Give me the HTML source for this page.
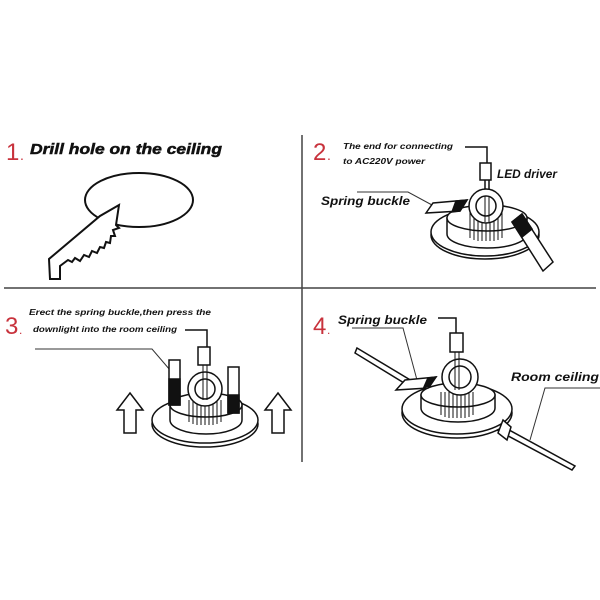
<!DOCTYPE html>
<html><head><meta charset="utf-8"><style>
body{margin:0;background:#fff}
svg{display:block}
.t{font-family:"Liberation Sans",sans-serif;font-weight:bold;font-style:italic;fill:#111}
.n{font-family:"Liberation Sans",sans-serif;fill:#c8323c}
</style></head><body>
<svg width="600" height="600" viewBox="0 0 600 600" xmlns="http://www.w3.org/2000/svg">
<g stroke="#444" stroke-width="1.5" fill="none">
<line x1="4" y1="288" x2="596" y2="288"/>
<line x1="302" y1="135" x2="302" y2="462"/>
</g>
<!-- Panel 1 -->
<text class="n" x="6" y="160" font-size="24">1</text><text class="n" x="20" y="160" font-size="14">.</text>
<text class="t" x="30" y="154" font-size="15" stroke="#111" stroke-width="0.5" textLength="192" lengthAdjust="spacingAndGlyphs">Drill hole on the ceiling</text>
<g stroke="#111" stroke-width="2" fill="#fff">
<ellipse cx="139" cy="200" rx="54" ry="27"/>
<path d="M50,279 L60,279 L60,266 L68,260 L72,262 L75,258 L80,261 L84,255 L89,257 L92,251 L97,253 L100,247 L104,248 L106,242 L110,243 L111,236 L115,236 L113,230 L119,228 L116,225 L119,205 L100,216 L49,259 Z"/>
</g>
<!-- Panel 2 -->
<text class="n" x="313" y="160" font-size="24">2</text><text class="n" x="327" y="160" font-size="14">.</text>
<text class="t" x="343" y="149" font-size="8.5" textLength="110" lengthAdjust="spacingAndGlyphs">The end for connecting</text>
<text class="t" x="343" y="164" font-size="8.5" textLength="82" lengthAdjust="spacingAndGlyphs">to AC220V power</text>
<text class="t" x="497" y="178" font-size="11.5" textLength="60" lengthAdjust="spacingAndGlyphs">LED driver</text>
<text class="t" x="321" y="205" font-size="11.5" textLength="89" lengthAdjust="spacingAndGlyphs">Spring buckle</text>
<g stroke="#111" stroke-width="1.5" fill="#fff">
<polyline points="357,192 408,192 432,205" fill="none" stroke="#333" stroke-width="1"/>
<path d="M465,147 L487,147 L487,163" fill="none"/>
<rect x="480" y="163" width="11" height="17"/>
<line x1="485" y1="180" x2="485" y2="200"/><line x1="489" y1="180" x2="489" y2="200"/>
<ellipse cx="485" cy="235" rx="54" ry="24"/>
<ellipse cx="485" cy="232" rx="54" ry="24"/>
<path d="M447,218 L447,234 A40,14 0 0 0 527,234 L527,218 Z"/>
<ellipse cx="487" cy="218" rx="40" ry="13"/>
<g stroke-width="1"><path d="M470,213V238M474,213V240M478,213V241M482,213V241M486,213V241M490,213V241M494,213V241M498,213V240M502,213V238"/></g>
<circle cx="486" cy="206" r="17"/><circle cx="486" cy="206" r="10"/>
<line x1="485" y1="196" x2="485" y2="222" stroke-width="1"/><line x1="489" y1="196" x2="489" y2="222" stroke-width="1"/>
<path d="M426,213 L433,203 L467,200 L460,211 Z"/>
<path d="M456,201 L467,200 L460,211 L452,212 Z" fill="#111"/>
<path d="M512,222 L522,214 L553,262 L543,271 Z"/>
<path d="M512,222 L522,214 L532,229 L522,237 Z" fill="#111"/>
</g>
<!-- Panel 3 -->
<text class="n" x="5" y="334" font-size="24">3</text><text class="n" x="19" y="334" font-size="12">.</text>
<text class="t" x="29" y="315" font-size="8.5" textLength="182" lengthAdjust="spacingAndGlyphs">Erect the spring buckle,then press the</text>
<text class="t" x="33" y="332" font-size="8.5" textLength="144" lengthAdjust="spacingAndGlyphs">downlight into the room ceiling</text>
<g stroke="#111" stroke-width="1.5" fill="#fff">
<polyline points="35,349 152,349 170,370" fill="none" stroke="#333" stroke-width="1"/>
<path d="M185,330 L207,330 L207,347" fill="none"/>
<rect x="198" y="347" width="12" height="18"/>
<ellipse cx="205" cy="424" rx="53" ry="23"/>
<ellipse cx="205" cy="420" rx="53" ry="23"/>
<path d="M170,405 L170,420 A36,14 0 0 0 242,420 L242,405 Z"/>
<ellipse cx="206" cy="405" rx="36" ry="12"/>
<g stroke-width="1"><path d="M189,400V422M193,400V424M197,400V425M201,400V425M205,400V425M209,400V425M213,400V425M217,400V424M221,400V422"/></g>
<circle cx="205" cy="389" r="17"/><circle cx="205" cy="389" r="10"/>
<line x1="203" y1="365" x2="203" y2="400" stroke-width="1"/><line x1="207" y1="365" x2="207" y2="400" stroke-width="1"/>
<rect x="169" y="360" width="11" height="45"/><rect x="169" y="379" width="11" height="26" fill="#111"/>
<rect x="228" y="367" width="11" height="46"/><rect x="228" y="395" width="11" height="18" fill="#111"/>
<path d="M130,393 L143,410 L136,410 L136,433 L124,433 L124,410 L117,410 Z"/>
<path d="M278,393 L291,410 L284,410 L284,433 L272,433 L272,410 L265,410 Z"/>
</g>
<!-- Panel 4 -->
<text class="n" x="313" y="334" font-size="24">4</text><text class="n" x="327" y="334" font-size="12">.</text>
<text class="t" x="338" y="324" font-size="11.5" textLength="89" lengthAdjust="spacingAndGlyphs">Spring buckle</text>
<text class="t" x="511" y="381" font-size="11.5" textLength="88" lengthAdjust="spacingAndGlyphs">Room ceiling</text>
<g stroke="#111" stroke-width="1.5" fill="#fff">
<polyline points="352,328 403,328 417,380" fill="none" stroke="#333" stroke-width="1"/>
<polyline points="600,388 545,388 530,440" fill="none" stroke="#333" stroke-width="1"/>
<path d="M357,348 L412,381 L409,386 L355,353 Z"/>
<path d="M500,425 L575,466 L572,470 L497,430 Z"/>
<path d="M438,318 L456,318 L456,333" fill="none"/>
<rect x="450" y="333" width="13" height="19"/>
<ellipse cx="457" cy="413" rx="55" ry="25"/>
<ellipse cx="457" cy="409" rx="55" ry="25"/>
<path d="M421,395 L421,408 A37,14 0 0 0 495,408 L495,395 Z"/>
<ellipse cx="458" cy="395" rx="37" ry="12"/>
<g stroke-width="1"><path d="M441,392V415M445,392V417M449,392V418M453,392V418M457,392V418M461,392V418M465,392V418M469,392V417M473,392V415"/></g>
<circle cx="460" cy="377" r="18"/><circle cx="460" cy="377" r="11"/>
<line x1="455" y1="352" x2="455" y2="390" stroke-width="1"/><line x1="459" y1="352" x2="459" y2="390" stroke-width="1"/>
<path d="M396,390 L405,380 L436,377 L428,388 Z"/>
<path d="M428,378 L436,377 L430,386 L424,387 Z" fill="#111"/>
<path d="M503,420 L511,427 L507,440 L498,433 Z"/>
</g>
</svg>
</body></html>
